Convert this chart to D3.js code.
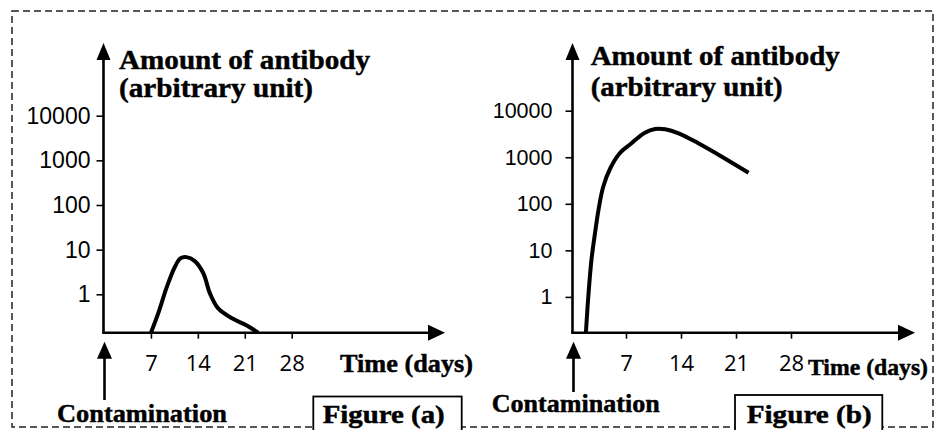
<!DOCTYPE html>
<html>
<head>
<meta charset="utf-8">
<script src="https://cdn.jsdelivr.net/npm/d3@7"></script>
<style>
    html, body { margin: 0; padding: 0; background: #fff; }
    svg { display: block; }
    .serif { font-family: "Liberation Serif", "Times New Roman", serif; font-weight: bold; fill: #000; stroke: #000; stroke-width: 0.45px; }
    .ytick text { font-family: "Liberation Sans", Arial, sans-serif; fill: #000; }
    .xtick text { font-family: "Open Sans", "Noto Sans", sans-serif; fill: #000; }
</style>
</head>
<body>
<div id="chart"></div>
<script>
const dayTicks = [7, 14, 21, 28];
const amountTicks = [1, 10, 100, 1000, 10000];

// figure (a) - first contact
const daysA = [7, 8.1, 9.4, 10.6, 11.4, 12.3, 13.5, 14.8, 15.8, 17.0, 19.1, 21.3, 23.0];
const amountA = [0, 0.38, 1.5, 4.2, 6.4, 6.8, 5.6, 3.0, 1.05, 0.49, 0.29, 0.2, 0];

// figure (b) - second contact
const daysB = [1.9, 2.2, 2.6, 3.05, 3.5, 4.1, 5.0, 6.2, 7.7, 9.4, 10.7, 12.0, 13.7, 16.2, 19.2, 22.6];
const amountB = [0, 1, 6.2, 23, 74, 233, 580, 1220, 2000, 3370, 4050, 3990, 3270, 2000, 1030, 466];

const yTitle = ['Amount of antibody', '(arbitrary unit)'];
const xTitle = 'Time (days)';
const eventLabel = 'Contamination';
const figureLabels = ['Figure (a)', 'Figure (b)'];

const width = 944;
const height = 430;

const svg = d3.select('#chart')
    .append('svg')
    .attr('width', width)
    .attr('height', height);

// dashed frame round both figures
svg.append('rect')
    .attr('x', 12).attr('y', 11)
    .attr('width', 921).attr('height', 416)
    .attr('fill', 'none')
    .attr('stroke', '#222')
    .attr('stroke-width', 1.5)
    .attr('stroke-dasharray', '7,4');

const panels = [
    {
        days: daysA, amount: amountA, label: figureLabels[0],
        axisX: 103.5, xRange: [104, 291.7], xEnd: 445, yTop: 43, yBase: 332.7, yRange: [294.3, 115.7],
        tickFont: 23, tickPad: 6,
        titleX: 119, titleY: [68.5, 97], titleLen: [251, 194],
        timeX: 340, timeY: 372, timeLen: 133, timeFont: 25,
        eventX: 57, eventY: 422, eventLen: 170, arrowBottom: 400,
        box: [313.3, 396.5, 461.7], boxTextX: 322.7, boxTextLen: 122
    },
    {
        days: daysB, amount: amountB, label: figureLabels[1],
        axisX: 572.5, xRange: [571, 791], xEnd: 915, yTop: 43, yBase: 332.7, yRange: [296.9, 110.7],
        tickFont: 21.5, tickPad: 13,
        titleX: 590.7, titleY: [65, 95.5], titleLen: [249, 192],
        timeX: 808, timeY: 375, timeLen: 120, timeFont: 23,
        eventX: 491.7, eventY: 412, eventLen: 168, arrowBottom: 392,
        box: [735, 395, 882.3], boxTextX: 746.7, boxTextLen: 125
    }
];

function drawPanel(p) {
    const g = svg.append('g');

    const xScale = d3.scaleLinear()
        .domain([0, 28])
        .range(p.xRange);

    const yScale = d3.scaleLog()
        .domain([1, 10000])
        .range(p.yRange);

    // undetectable amounts sit on the time axis
    const floor = yScale.invert(p.yBase);

    // y ticks
    const yAxis = g.append('g')
        .attr('class', 'ytick')
        .attr('transform', `translate(${p.axisX},0)`)
        .call(d3.axisLeft(yScale)
            .tickValues(amountTicks)
            .tickFormat(d3.format('d'))
            .tickSize(7)
            .tickPadding(p.tickPad));
    yAxis.select('.domain').remove();
    yAxis.selectAll('line').attr('stroke', '#000').attr('stroke-width', 1.6);
    yAxis.selectAll('text').style('font-size', p.tickFont + 'px');

    // x ticks
    const xAxis = g.append('g')
        .attr('class', 'xtick')
        .attr('transform', `translate(0,${p.yBase})`)
        .call(d3.axisBottom(xScale)
            .tickValues(dayTicks)
            .tickSize(6)
            .tickPadding(17));
    xAxis.select('.domain').remove();
    xAxis.selectAll('line').attr('stroke', '#000').attr('stroke-width', 1.6);
    xAxis.selectAll('text').style('font-size', '22px');

    // axis lines with arrow heads
    g.append('path')
        .attr('d', `M${p.axisX},${p.yBase}V${p.yTop + 14}`)
        .attr('stroke', '#000').attr('stroke-width', 2.6).attr('fill', 'none');
    g.append('path')
        .attr('d', `M${p.axisX},${p.yTop}l-7,17h14z`)
        .attr('fill', '#000');
    g.append('path')
        .attr('d', `M${p.axisX - 1.3},${p.yBase}H${p.xEnd - 14}`)
        .attr('stroke', '#000').attr('stroke-width', 2.6).attr('fill', 'none');
    g.append('path')
        .attr('d', `M${p.xEnd},${p.yBase}l-17,-8v16z`)
        .attr('fill', '#000');

    // antibody curve
    const points = p.days.map((d, i) => ({ day: d, amount: Math.max(p.amount[i], floor) }));
    const line = d3.line()
        .x(d => xScale(d.day))
        .y(d => yScale(d.amount))
        .curve(d3.curveCatmullRom.alpha(0.5));

    g.append('path')
        .datum(points)
        .attr('d', line)
        .attr('fill', 'none')
        .attr('stroke', '#000')
        .attr('stroke-width', 4)
        .attr('stroke-linejoin', 'round');

    // titles
    yTitle.forEach((t, i) => {
        g.append('text')
            .attr('class', 'serif')
            .attr('x', p.titleX).attr('y', p.titleY[i])
            .attr('textLength', p.titleLen[i])
            .attr('lengthAdjust', 'spacingAndGlyphs')
            .style('font-size', '28px')
            .text(t);
    });

    g.append('text')
        .attr('class', 'serif')
        .attr('x', p.timeX).attr('y', p.timeY)
        .attr('textLength', p.timeLen)
        .attr('lengthAdjust', 'spacingAndGlyphs')
        .style('font-size', p.timeFont + 'px')
        .text(xTitle);

    // contamination marker
    g.append('path')
        .attr('d', `M${p.axisX + 1},${p.arrowBottom}V${p.yBase + 20}`)
        .attr('stroke', '#000').attr('stroke-width', 2.6);
    g.append('path')
        .attr('d', `M${p.axisX + 1},${p.yBase + 9}l-7.5,17h15z`)
        .attr('fill', '#000');

    g.append('text')
        .attr('class', 'serif')
        .attr('x', p.eventX).attr('y', p.eventY)
        .attr('textLength', p.eventLen)
        .attr('lengthAdjust', 'spacingAndGlyphs')
        .style('font-size', '25px')
        .text(eventLabel);

    // figure label box, open at the bottom
    const [bx0, by, bx1] = p.box;
    g.append('rect')
        .attr('x', bx0).attr('y', by)
        .attr('width', bx1 - bx0).attr('height', height - by + 5)
        .attr('fill', '#fff')
        .attr('stroke', '#000')
        .attr('stroke-width', 1.8);

    g.append('text')
        .attr('class', 'serif')
        .attr('x', p.boxTextX).attr('y', 422.5)
        .attr('textLength', p.boxTextLen)
        .attr('lengthAdjust', 'spacingAndGlyphs')
        .style('font-size', '25px')
        .text(p.label);
}

panels.forEach(drawPanel);
</script>
</body>
</html>
